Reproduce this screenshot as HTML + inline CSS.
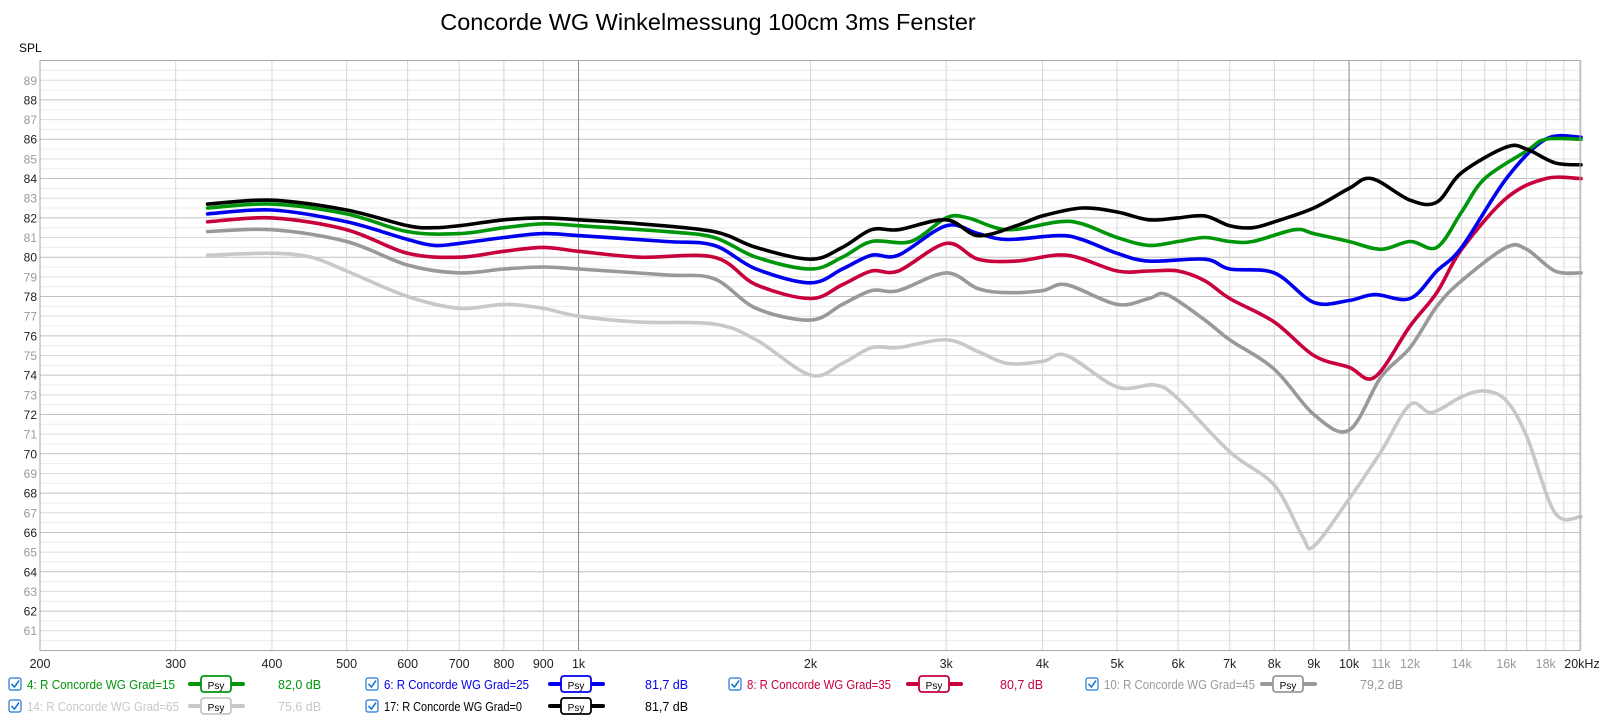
<!DOCTYPE html>
<html><head><meta charset="utf-8"><style>
html,body{margin:0;padding:0;background:#fff;width:1600px;height:722px;overflow:hidden;font-family:"Liberation Sans",sans-serif}
svg text{font-family:"Liberation Sans",sans-serif}
</style></head><body>
<svg id="s" width="1600" height="722" xmlns="http://www.w3.org/2000/svg">
<text x="708" y="30" font-size="23.5" text-anchor="middle" fill="#000">Concorde WG Winkelmessung 100cm 3ms Fenster</text>
<text x="19" y="52" font-size="12" fill="#000">SPL</text>
<g id="grid"></g>
<g id="curves" fill="none" stroke-width="3.6" stroke-linejoin="round" stroke-linecap="round"></g>
<rect x="40" y="60.5" width="1540" height="590" fill="none" stroke="#aaa" stroke-width="1"/>
<g id="legend" font-size="12.5"></g>
</svg>
<script>
const NS="http://www.w3.org/2000/svg";
const X=f=>40+Math.log10(f/200)*770.5;
const Y=d=>60.6+(90-d)*19.66;
function el(t,a,p,txt){const e=document.createElementNS(NS,t);for(const k in a)e.setAttribute(k,a[k]);if(txt!==undefined)e.textContent=txt;p.appendChild(e);return e;}
const g=document.getElementById('grid');
for(let d=60.5;d<90;d+=0.5){const y=Y(d);const even=d%2===0,int=d%1===0;
 el('line',{x1:40,x2:1580,y1:y,y2:y,stroke:even?'#c0c0c0':int?'#dcdcdc':'#ececec','stroke-width':1},g);}
for(let d=61;d<90;d++){el('text',{x:37,y:Y(d)+4.5,'font-size':12,'text-anchor':'end',fill:d%2===0?'#222':'#999'},g,String(d));}
const fs=[];for(let f=300;f<=1000;f+=100)fs.push(f);for(let f=2000;f<=20000;f+=1000)fs.push(f);
fs.forEach(f=>{const x=X(f);const dark=(f===1000||f===10000);
 el('line',{x1:x,x2:x,y1:60,y2:650,stroke:dark?'#888':'#d8d8d8','stroke-width':1},g);});
const labs=[[200,'200',1],[300,'300',1],[400,'400',1],[500,'500',1],[600,'600',1],[700,'700',1],[800,'800',1],[900,'900',1],[1000,'1k',1],[2000,'2k',1],[3000,'3k',1],[4000,'4k',1],[5000,'5k',1],[6000,'6k',1],[7000,'7k',1],[8000,'8k',1],[9000,'9k',1],[10000,'10k',1],[11000,'11k',0],[12000,'12k',0],[14000,'14k',0],[16000,'16k',0],[18000,'18k',0]];
labs.forEach(l=>el('text',{x:X(l[0]),y:668,'font-size':12.5,'text-anchor':'middle',fill:l[2]?'#222':'#999'},g,l[1]));
el('text',{x:1582,y:668,'font-size':12.5,'text-anchor':'middle',fill:'#222'},g,'20kHz');
const data={
'#c8c8c8':[[330,80.1],[400,80.2],[450,80],[500,79.3],[600,78],[700,77.4],[800,77.6],[900,77.4],[1000,77],[1200,76.7],[1500,76.6],[1700,75.8],[2000,74],[2200,74.6],[2400,75.4],[2600,75.4],[3000,75.8],[3300,75.2],[3600,74.6],[4000,74.7],[4300,75],[5000,73.4],[5600,73.5],[6000,72.8],[7000,70.1],[8000,68.4],[8700,65.8],[9000,65.3],[10000,67.7],[11000,70.1],[12000,72.5],[12800,72.1],[14000,72.9],[15000,73.2],[16000,72.7],[17000,70.9],[18500,67],[20000,66.8]],
'#999999':[[330,81.3],[400,81.4],[500,80.8],[600,79.6],[700,79.2],[800,79.4],[900,79.5],[1000,79.4],[1300,79.1],[1500,78.9],[1700,77.4],[2000,76.8],[2200,77.6],[2400,78.3],[2600,78.3],[3000,79.2],[3300,78.4],[3600,78.2],[4000,78.3],[4300,78.6],[5000,77.6],[5500,77.9],[5800,78.1],[6500,76.8],[7000,75.8],[8000,74.3],[9000,72],[10000,71.2],[11000,73.9],[12000,75.4],[13000,77.5],[14000,78.8],[16000,80.5],[17000,80.4],[18500,79.3],[20000,79.2]],
'#c8003c':[[330,81.8],[400,82],[500,81.4],[600,80.2],[700,80],[800,80.3],[900,80.5],[1000,80.3],[1200,80],[1500,80],[1700,78.6],[2000,77.9],[2200,78.6],[2400,79.3],[2600,79.3],[3000,80.7],[3300,79.9],[3700,79.8],[4300,80.1],[5000,79.3],[5500,79.3],[6000,79.3],[6500,78.8],[7000,77.9],[8000,76.7],[9000,75],[10000,74.4],[10800,73.9],[12000,76.5],[13000,78.2],[14000,80.4],[16000,83],[18000,84],[20000,84]],
'#0000ee':[[330,82.2],[400,82.4],[500,81.8],[600,80.9],[650,80.6],[700,80.7],[800,81],[900,81.2],[1000,81.1],[1300,80.8],[1500,80.6],[1700,79.4],[2000,78.7],[2200,79.4],[2400,80.1],[2600,80.1],[3000,81.6],[3300,81.2],[3600,80.9],[4200,81.1],[4500,80.9],[5000,80.2],[5500,79.8],[6500,79.9],[7000,79.4],[8000,79.2],[9000,77.7],[10000,77.8],[10800,78.1],[12000,77.9],[13000,79.3],[14000,80.5],[16000,84],[18000,86],[20000,86.1]],
'#00960a':[[330,82.5],[400,82.7],[500,82.2],[600,81.3],[700,81.2],[800,81.5],[900,81.7],[1000,81.6],[1300,81.3],[1500,81],[1700,80],[2000,79.4],[2200,80],[2400,80.8],[2700,80.8],[3000,82],[3200,82],[3600,81.4],[4200,81.8],[4500,81.7],[5000,81],[5500,80.6],[6000,80.8],[6500,81],[7000,80.8],[7500,80.8],[8500,81.4],[9000,81.2],[10000,80.8],[11000,80.4],[12000,80.8],[13000,80.5],[14000,82.3],[15000,84],[17000,85.4],[18000,86],[20000,86]],
'#000000':[[330,82.7],[400,82.9],[500,82.4],[600,81.6],[650,81.5],[700,81.6],[800,81.9],[900,82],[1000,81.9],[1200,81.7],[1500,81.3],[1700,80.5],[2000,79.9],[2200,80.5],[2400,81.4],[2600,81.4],[3000,81.9],[3300,81.1],[3700,81.6],[4000,82.1],[4500,82.5],[5000,82.3],[5500,81.9],[6000,82],[6500,82.1],[7000,81.6],[7500,81.5],[8000,81.8],[9000,82.5],[10000,83.5],[10700,84],[12000,82.9],[13000,82.8],[14000,84.3],[16000,85.6],[17000,85.5],[18500,84.8],[20000,84.7]]};
const cg=document.getElementById('curves');
for(const c in data){const p=data[c].map(a=>[X(a[0]),Y(a[1])]);
 let d='M'+p[0][0].toFixed(1)+','+p[0][1].toFixed(1);
 for(let i=0;i<p.length-1;i++){const p0=p[i-1]||p[i],p1=p[i],p2=p[i+1],p3=p[i+2]||p2;
  const c1=[p1[0]+(p2[0]-p0[0])/6,p1[1]+(p2[1]-p0[1])/6],c2=[p2[0]-(p3[0]-p1[0])/6,p2[1]-(p3[1]-p1[1])/6];
  d+=`C${c1[0].toFixed(1)},${c1[1].toFixed(1)} ${c2[0].toFixed(1)},${c2[1].toFixed(1)} ${p2[0].toFixed(1)},${p2[1].toFixed(1)}`;}
 el('path',{d:d,stroke:c},cg);}
const lg=document.getElementById('legend');
const items=[
[9,689,'#00960a','4: R Concorde WG Grad=15','82,0 dB',190,278,148],
[366,689,'#0000ee','6: R Concorde WG Grad=25','81,7 dB',550,645,145],
[729,689,'#c8003c','8: R Concorde WG Grad=35','80,7 dB',908,1000,144],
[1086,689,'#999999','10: R Concorde WG Grad=45','79,2 dB',1262,1360,151],
[9,711,'#c8c8c8','14: R Concorde WG Grad=65','75,6 dB',190,278,152],
[366,711,'#000000','17: R Concorde WG Grad=0','81,7 dB',550,645,138]];
items.forEach(it=>{const [x,y,c,t,v,lx,vx,tw]=it;
 el('rect',{x:x,y:y-11,width:12,height:12,rx:2,fill:'#fff',stroke:'#1e78d2','stroke-width':1.2},lg);
 el('path',{d:`M${x+2.5},${y-5} l3,3 l4.5,-6.5`,fill:'none',stroke:'#1e78d2','stroke-width':1.6},lg);
 el('text',{x:x+18,y:y,fill:c,textLength:tw,lengthAdjust:'spacingAndGlyphs'},lg,t);
 el('line',{x1:lx,x2:lx+53,y1:y-5,y2:y-5,stroke:c,'stroke-width':4,'stroke-linecap':'round'},lg);
 el('rect',{x:lx+11,y:y-13,width:30,height:16,rx:3,fill:'#fff',stroke:c,'stroke-width':1.8},lg);
 el('text',{x:lx+26,y:y,'font-size':10,'text-anchor':'middle',fill:'#000'},lg,'Psy');
 el('text',{x:vx,y:y,fill:c},lg,v);});
</script>
</body></html>
